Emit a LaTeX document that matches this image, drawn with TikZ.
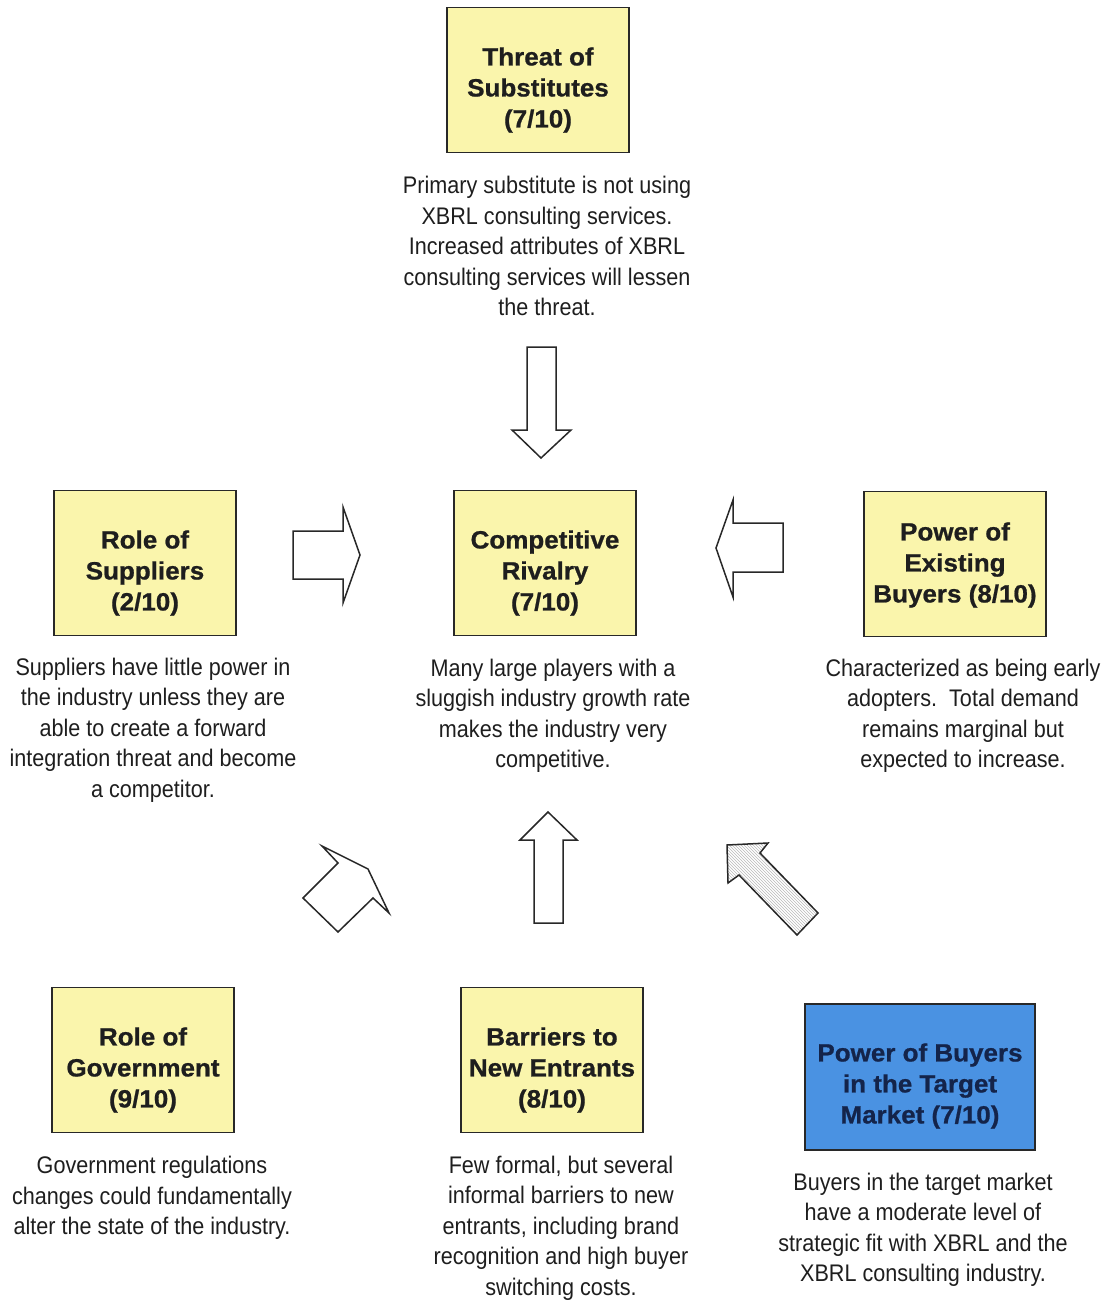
\documentclass[tikz,border=0pt]{standalone}
\usepackage{fontspec}
\setmainfont{Liberation Sans}
\newfontfamily\bodyfont[FakeStretch=0.9]{Liberation Sans}
\newfontfamily\headfont[FakeStretch=1.04,FakeBold=0.8]{Liberation Sans}
\usetikzlibrary{patterns}
\definecolor{boxyellow}{RGB}{250,245,172}
\definecolor{boxblue}{RGB}{74,146,226}
\definecolor{ink}{RGB}{30,30,30}
\definecolor{navy}{RGB}{20,36,74}
\definecolor{edge}{RGB}{40,40,40}
\tikzset{
  forcebox/.style={draw=edge, line width=1.8pt, fill=boxyellow,
    minimum width=182pt, minimum height=145pt, inner sep=0pt},
  targetbox/.style={forcebox, fill=boxblue, minimum width=230pt, minimum height=146pt},
  title/.style={align=center, inner sep=0pt, text=ink,
    font=\headfont\bfseries\fontsize{25}{31}\selectfont},
  targettitle/.style={title, text=navy},
  note/.style={align=center, text=ink, inner sep=0pt, font=\bodyfont\fontsize{24}{30.5}\selectfont},
  blockarrow/.style={draw=edge, line width=1.5pt, fill=white, line join=miter},
}
\begin{document}
\begin{tikzpicture}[x=1pt,y=-1pt]
\useasboundingbox (0,0) rectangle (1115,1301);

% the six forces around the central rivalry box
\node[forcebox] (subst) at (538,80) {};
\node[forcebox] (suppl) at (145,563) {};
\node[forcebox] (rival) at (545,563) {};
\node[forcebox] (exist) at (955,564) {};
\node[forcebox] (govt) at (143,1060) {};
\node[forcebox] (entr) at (552,1060) {};
\node[targetbox] (target) at (920,1077) {};

% box titles
\node[title] (substtitle) at ([yshift=-10pt]subst.center) {Threat of\\Substitutes\\(7/10)};
\node[title] (suppltitle) at ([yshift=-10pt]suppl.center) {Role of\\Suppliers\\(2/10)};
\node[title] (rivaltitle) at ([yshift=-10pt]rival.center) {Competitive\\Rivalry\\(7/10)};
\node[title] (existtitle) at ([yshift=-1pt]exist.center) {Power of\\Existing\\Buyers (8/10)};
\node[title] (govttitle) at ([yshift=-10pt]govt.center) {Role of\\Government\\(9/10)};
\node[title] (entrtitle) at ([yshift=-10pt]entr.center) {Barriers to\\New Entrants\\(8/10)};
\node[targettitle] (targettext) at ([yshift=-9pt]target.center) {Power of Buyers\\in the Target\\Market (7/10)};

% explanatory notes under each box
\node[note] (substnote) at (547,246) {Primary substitute is not using\\XBRL consulting services.\\Increased attributes of XBRL\\consulting services will lessen\\the threat.};
\node[note] (supplnote) at (153,730) {Suppliers have little power in\\the industry unless they are\\able to create a forward\\integration threat and become\\a competitor.};
\node[note] (rivalnote) at (553,716) {Many large players with a\\sluggish industry growth rate\\makes the industry very\\competitive.};
\node[note] (existnote) at (963,716) {Characterized as being early\\adopters.\ \ Total demand\\remains marginal but\\expected to increase.};
\node[note] (govtnote) at (152,1198) {Government regulations\\changes could fundamentally\\alter the state of the industry.};
\node[note] (entrnote) at (561,1228) {Few formal, but several\\informal barriers to new\\entrants, including brand\\recognition and high buyer\\switching costs.};
\node[note] (targetnote) at (923,1230) {Buyers in the target market\\have a moderate level of\\strategic fit with XBRL and the\\XBRL consulting industry.};

% block arrows pointing at the rivalry box
\draw[blockarrow] (527,347) -- (556,347) -- (556,430) -- (571,430) -- (541,458)
  -- (512,430) -- (527,430) -- cycle;
\draw[blockarrow] (293,531) -- (343,531) -- (343,507) -- (360,555) -- (343,603)
  -- (343,579) -- (293,579) -- cycle;
\draw[blockarrow] (783,523) -- (733,523) -- (733,500) -- (716,548) -- (733,597)
  -- (733,572) -- (783,572) -- cycle;
\draw[blockarrow] (534,923) -- (534,840) -- (520,840) -- (548,812) -- (577,840)
  -- (563,840) -- (563,923) -- cycle;
\draw[blockarrow] (322,846) -- (368,869) -- (389,913) -- (373,898) -- (338,932)
  -- (303,898) -- (338,863) -- cycle;
\draw[blockarrow, pattern=north west lines, pattern color=gray!55]
  (727,845) -- (768,843) -- (760,853) -- (818,913) -- (797,935)
  -- (739,875) -- (728,883) -- cycle;
\end{tikzpicture}
\end{document}
